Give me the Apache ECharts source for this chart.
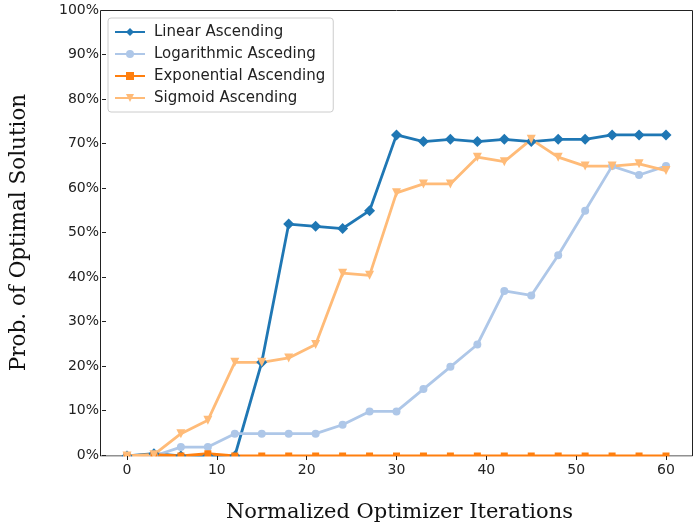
<!DOCTYPE html>
<html><head><meta charset="utf-8">
<script src="https://cdn.jsdelivr.net/npm/echarts@6/dist/echarts.min.js"></script>
<style>html,body{margin:0;padding:0;background:#fff}#c{width:694px;height:528px}</style>
</head><body><div id="c"></div>
<script>
const iterations = [0,3,6,9,12,15,18,21,24,27,30,33,36,39,42,45,48,51,54,57,60];
const linearAsc = [0,0.5,0,0,0,21,52,51.5,51,55,72,70.5,71,70.5,71,70.5,71,71,72,72,72];
const logAsc = [0,0,2,2,5,5,5,5,7,10,10,15,20,25,37,36,45,55,65,63,65];
const expAsc = [0,0.3,0,0.5,0,0,0,0,0,0,0,0,0,0,0,0,0,0,0,0,0];
const sigAsc = [0,0.3,5,8,21,21,22,25,41,40.5,59,61,61,67,66,71,67,65,65,65.5,64];
const seriesNames = ['Linear Ascending','Logarithmic Asceding','Exponential Ascending','Sigmoid Ascending'];
const colors = ['#1f77b4','#aec7e8','#ff7f0e','#ffbb78'];

const pair = arr => iterations.map((x,i)=>[x,arr[i]]);
const chart = echarts.init(document.getElementById('c'), null, {renderer:'canvas'});
const mk = (name, data, color, symbol, size, rot) => ({
  name, type:'line', data: pair(data), xAxisIndex:1, yAxisIndex:1,
  symbol, symbolSize:size, symbolRotate: rot||0, showSymbol:true, clip:false,
  lineStyle:{width:2.8,color}, itemStyle:{color}, color, z:3,
  animation:false
});
chart.setOption({
  animation:false,
  grid:[
    {left:100,right:1,top:10,bottom:72,show:false},
    {left:127,right:28,top:10,bottom:72}
  ],
  graphic:[
    {type:'rect',z:1,silent:true,shape:{x:100.5,y:10.5,width:592,height:445.5},style:{fill:null,stroke:'#222',lineWidth:1}},
    {type:'rect',z:5,silent:true,shape:{x:101,y:456.6,width:592,height:9},style:{fill:'#fff'}}
  ],
  xAxis:[
    {gridIndex:0,type:'value',min:-3,max:63,axisLine:{show:false,onZero:false},axisTick:{show:false},axisLabel:{show:false},splitLine:{show:false},
     name:'Normalized Optimizer Iterations',nameLocation:'middle',nameGap:47,z:10,
     nameTextStyle:{fontFamily:'DejaVu Serif',fontSize:21,color:'#111'}},
    {gridIndex:1,type:'value',min:0,max:60,interval:10,axisLine:{show:false,onZero:false},z:10,
     axisTick:{show:true,length:4,lineStyle:{color:'#222'}},splitLine:{show:false},
     axisLabel:{fontFamily:'DejaVu Sans',fontSize:14,color:'#222',margin:7}}
  ],
  yAxis:[
    {gridIndex:0,type:'value',min:0,max:100,interval:10,axisLine:{show:false,onZero:false},z:10,
     axisTick:{show:true,length:4,lineStyle:{color:'#222'}},splitLine:{show:false},
     axisLabel:{fontFamily:'DejaVu Sans',fontSize:14,color:'#222',margin:7,formatter:v=>v+'%'},
     name:'Prob. of Optimal Solution',nameLocation:'middle',nameGap:76,
     nameTextStyle:{fontFamily:'DejaVu Serif',fontSize:21.5,color:'#111'}},
    {gridIndex:1,type:'value',min:0,max:100,show:false}
  ],
  legend:{
    orient:'vertical',left:108,top:18,itemWidth:30,itemHeight:10,itemGap:6,z:20,
    backgroundColor:'#fff',borderColor:'#ccc',borderWidth:1,borderRadius:3,padding:[6,8,6,6],
    textStyle:{fontFamily:'DejaVu Sans',fontSize:15,lineHeight:16,color:'#222',padding:[0,0,0,4]},
    data:seriesNames
  },
  series:[
    mk(seriesNames[0], linearAsc, colors[0], 'diamond', 11),
    mk(seriesNames[1], logAsc, colors[1], 'circle', 8),
    mk(seriesNames[2], expAsc, colors[2], 'rect', 7),
    mk(seriesNames[3], sigAsc, colors[3], 'triangle', 9, 180)
  ]
});
</script></body></html>
